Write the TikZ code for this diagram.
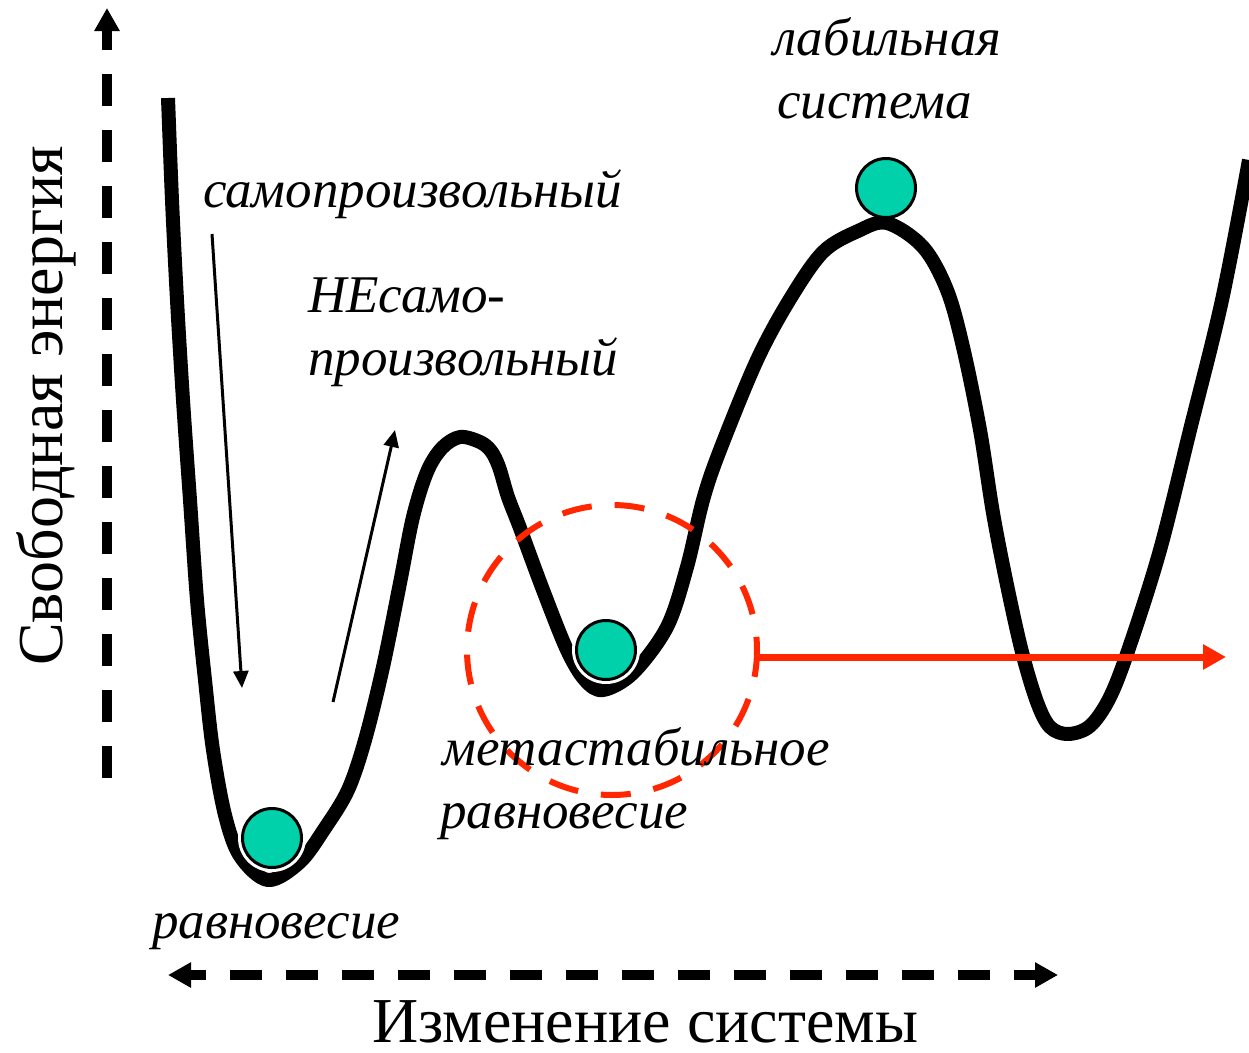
\documentclass[tikz,border=0pt]{standalone}
\usepackage{fontspec}
\setmainfont{Liberation Serif}
\usetikzlibrary{arrows.meta}
\definecolor{ballc}{RGB}{0,209,170}
\definecolor{redc}{RGB}{255,38,0}
\tikzset{axtip/.tip={Triangle[length=23pt,width=24pt]}}
\begin{document}
\begin{tikzpicture}[x=1pt,y=-1pt,
  lbl/.style={inner sep=0pt, anchor=base west, font=\fontsize{53}{60}\selectfont\itshape},
  axlbl/.style={inner sep=0pt, anchor=base west, font=\fontsize{64}{70}\selectfont},
  axisline/.style={line width=10pt, dash pattern=on 32pt off 24pt},
  thinarrow/.style={line width=3pt, -{Triangle[length=17pt,width=15pt]}},
  ball/.style={circle, fill=ballc, draw=black, line width=3pt, minimum size=59pt, inner sep=0pt},
  halo/.style={circle, fill=white, minimum size=68pt, inner sep=0pt},
  energy/.style={line width=14pt, line join=round},
  reddash/.style={draw=redc, line width=6pt, dash pattern=on 30pt off 23pt},
  redarrow/.style={draw=redc, line width=7pt, -{Triangle[length=23pt,width=24pt]}, redc}
]
\useasboundingbox (0,0) rectangle (1249,1052);

% axes
\coordinate (ybot) at (107,778);
\coordinate (ytop) at (107,8);
\draw[axisline, -axtip] (ybot) -- (ytop);
\coordinate (xl) at (168,975);
\coordinate (xr) at (1058,975);
\draw[axisline, dash phase=16pt, axtip-axtip] (xl) -- (xr);

% axis labels
\node[axlbl, rotate=90] (ylab) at (62,666) {Свободная энергия};
\node[axlbl] (xlab) at (372,1042) {Изменение системы};

% energy curve
\draw[energy] plot[smooth, tension=0.55] coordinates {
 (168,98) (172,200) (177,300) (183,400) (190,500) (197,600) (205,680)
 (213,750) (225,815) (240,856) (268,880) (300,862) (325,828) (348,790)
 (365,740) (383,667) (400,583) (413,517) (427,472) (442,448) (460,437)
 (480,442) (491,451) (499,467) (508,497) (520,528) (543,590) (567,650)
 (585,680) (603,690) (633,673) (667,627) (687,567) (703,500) (720,450)
 (757,360) (790,299) (823,252) (858,231) (887,223) (923,247) (947,290)
 (963,347) (980,430) (993,513) (1007,585) (1022,652) (1037,702) (1050,727)
 (1068,734) (1090,726) (1110,697) (1130,645) (1160,550) (1190,430)
 (1222,300) (1249,160)};

% red dashed circle and arrow
\draw[reddash] (612,650) ++(-1.2:145) arc[start angle=-1.2, end angle=358.8, radius=145];
\coordinate (rs) at (757,657);
\coordinate (re) at (1226,657);
\draw[redarrow] (rs) -- (re);

% balls
\node[halo] (h1) at (272,838) {};
\node[ball] (b1) at (272,838) {};
\node[halo] (h2) at (606,650) {};
\node[ball] (b2) at (606,650) {};
\node[ball] (b3) at (886,188) {};

% thin arrows
\coordinate (a1s) at (212,234);
\coordinate (a1e) at (242,688);
\draw[thinarrow] (a1s) -- (a1e);
\coordinate (a2s) at (333,702);
\coordinate (a2e) at (395,430);
\draw[thinarrow] (a2s) -- (a2e);

% labels
\node[lbl] (t1) at (203,207) {самопроизвольный};
\node[lbl] (t2) at (308,312) {НЕсамо-};
\node[lbl] (t3) at (308,375) {произвольный};
\node[lbl] (t4) at (773,55) {лабильная};
\node[lbl] (t5) at (777,118) {система};
\node[lbl] (t6) at (442,765) {метастабильное};
\node[lbl] (t7) at (440,828) {равновесие};
\node[lbl] (t8) at (152,938) {равновесие};
\end{tikzpicture}
\end{document}
